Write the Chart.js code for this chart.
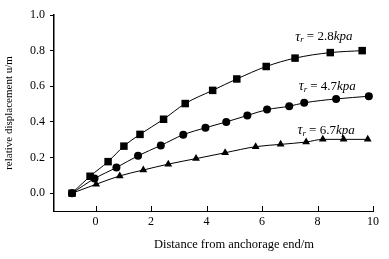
<!DOCTYPE html>
<html>
<head>
<meta charset="utf-8">
<script src="https://cdn.jsdelivr.net/npm/chart.js@4.4.1/dist/chart.umd.min.js"></script>
<style>
  html, body { margin: 0; padding: 0; background: #ffffff; }
  #wrap { width: 389px; height: 259px; }
</style>
</head>
<body>
<div id="wrap"><canvas id="dispChart"></canvas></div>
<script>
// === Data ===
const xSquare = [-0.85, -0.2, 0.45, 1.02, 1.6, 2.45, 3.23, 4.22, 5.09, 6.15, 7.19, 8.46, 9.61];
const ySquare = [0, 0.095, 0.177, 0.264, 0.33, 0.415, 0.503, 0.577, 0.641, 0.711, 0.758, 0.789, 0.8];

const xCircle = [-0.85, -0.04, 0.75, 1.53, 2.35, 3.16, 3.96, 4.71, 5.47, 6.18, 6.98, 7.52, 8.67, 9.85];
const yCircle = [0, 0.082, 0.144, 0.21, 0.268, 0.328, 0.367, 0.4, 0.436, 0.469, 0.488, 0.507, 0.529, 0.544];

const xTriangle = [-0.85, 0.02, 0.87, 1.72, 2.62, 3.62, 4.67, 5.77, 6.67, 7.59, 8.19, 8.94, 9.81];
const yTriangle = [0, 0.05, 0.097, 0.13, 0.163, 0.194, 0.227, 0.261, 0.274, 0.287, 0.302, 0.302, 0.302];

const seriesLabels = ["2.8", "4.7", "6.7"];
const xTicks = [0, 2, 4, 6, 8, 10];
const yTicks = [0, 0.2, 0.4, 0.6, 0.8, 1.0];

// where each curve label sits (data coords of its left / middle)
const labelAnchors = [
  { x: 7.2, y: 0.877 },
  { x: 7.32, y: 0.598 },
  { x: 7.28, y: 0.352 },
];

const SERIF = "'Liberation Serif', 'DejaVu Serif', serif";

function toPoints(xs, ys) {
  return xs.map((x, i) => ({ x: x, y: ys[i] }));
}

// === Plugin: inside x ticks, curve labels and x title ===
const extras = {
  id: "extras",
  afterDraw(chart) {
    const ctx = chart.ctx;
    const xs = chart.scales.x;
    const ys = chart.scales.y;
    const area = chart.chartArea;

    ctx.save();
    // x tick marks pointing up into the plot
    ctx.strokeStyle = "#000";
    ctx.lineWidth = 1;
    xTicks.forEach((t) => {
      const px = Math.round(xs.getPixelForValue(t)) + 0.5;
      ctx.beginPath();
      ctx.moveTo(px, area.bottom);
      ctx.lineTo(px, area.bottom - 5);
      ctx.stroke();
    });

    // curve labels: tau_r = N kpa
    ctx.fillStyle = "#000";
    ctx.textBaseline = "middle";
    labelAnchors.forEach((a, i) => {
      let px = xs.getPixelForValue(a.x);
      const py = ys.getPixelForValue(a.y);
      ctx.font = "italic 14px " + SERIF;
      ctx.fillText("\u03C4", px, py);
      px += ctx.measureText("\u03C4").width;
      ctx.font = "italic 9px " + SERIF;
      ctx.fillText("r", px, py + 3);
      px += ctx.measureText("r").width + 3;
      ctx.font = "13px " + SERIF;
      const mid = "= " + seriesLabels[i];
      ctx.fillText(mid, px, py);
      px += ctx.measureText(mid).width;
      ctx.font = "italic 13px " + SERIF;
      ctx.fillText("kpa", px, py);
    });

    // x axis title
    ctx.font = "12.5px " + SERIF;
    ctx.textAlign = "center";
    ctx.fillText("Distance from anchorage end/m", 234, 245);
    ctx.restore();
  },
};

const common = {
  borderColor: "#000",
  backgroundColor: "#000",
  borderWidth: 1,
  pointBorderWidth: 0,
  cubicInterpolationMode: "monotone",
  fill: false,
};

new Chart(document.getElementById("dispChart"), {
  type: "line",
  data: {
    datasets: [
      Object.assign({}, common, {
        label: seriesLabels[0],
        data: toPoints(xSquare, ySquare),
        pointStyle: "rect",
        pointRadius: 5.3,
        order: 2,
      }),
      Object.assign({}, common, {
        label: seriesLabels[1],
        data: toPoints(xCircle, yCircle),
        pointStyle: "circle",
        pointRadius: 4,
        order: 0,
      }),
      Object.assign({}, common, {
        label: seriesLabels[2],
        data: toPoints(xTriangle, yTriangle),
        pointStyle: "triangle",
        pointRadius: 4.5,
        order: 1,
      }),
    ],
  },
  options: {
    responsive: true,
    maintainAspectRatio: false,
    animation: false,
    layout: { padding: { top: 15, right: 16, left: 0, bottom: 0 } },
    scales: {
      x: {
        type: "linear",
        min: -1.5,
        max: 10,
        afterBuildTicks: (s) => { s.ticks = xTicks.map((v) => ({ value: v })); },
        afterFit: (s) => { s.height = 48; },
        ticks: {
          color: "#000",
          font: { family: SERIF, size: 12 },
          padding: 4,
          maxRotation: 0,
        },
        grid: { display: true, drawOnChartArea: false, drawTicks: false, tickLength: 0 },
        border: { display: true, color: "#000", width: 1 },
      },
      y: {
        min: -0.1,
        max: 1.0,
        afterBuildTicks: (s) => { s.ticks = yTicks.map((v) => ({ value: v })); },
        afterFit: (s) => { s.width = 54; },
        ticks: {
          color: "#000",
          font: { family: SERIF, size: 12 },
          padding: 5,
          callback: (v) => Number(v).toFixed(1),
        },
        grid: { display: true, drawOnChartArea: false, tickLength: 4, color: "#000" },
        border: { display: true, color: "#000", width: 1.5 },
        title: {
          display: true,
          text: "relative displacement u/m",
          color: "#000",
          font: { family: SERIF, size: 11 },
          padding: { top: 3, bottom: 0 },
        },
      },
    },
    plugins: {
      legend: { display: false },
      tooltip: { enabled: false },
    },
  },
  plugins: [extras],
});
</script>
</body>
</html>
